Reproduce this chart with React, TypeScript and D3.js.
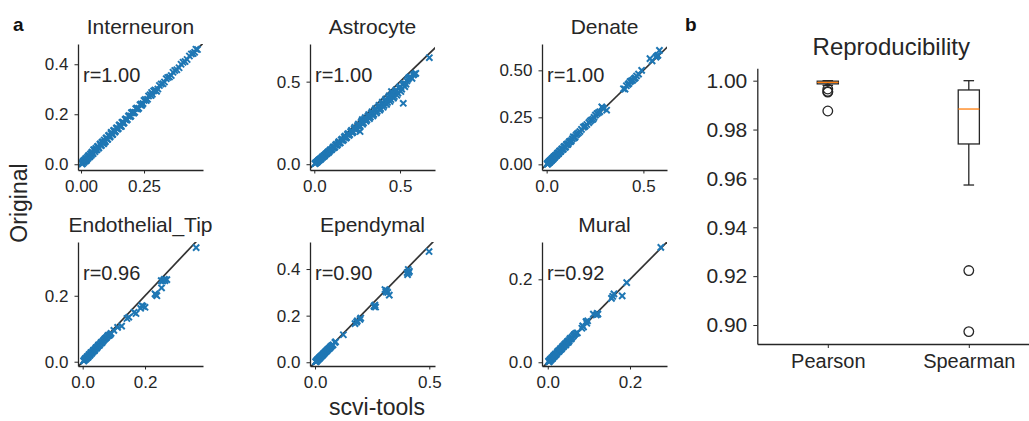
import React, { useEffect, useRef } from 'react'
import * as d3 from 'd3'

type Pt = [number, number]

// [scvi-tools, Original] pairs
const interneuronPts: Pt[] = [
  [0.003, 0.006], [0.006, 0.002], [0.008, 0.011], [0.011, 0.007], [0.013, 0.016], [0.016, 0.012],
  [0.019, 0.023], [0.022, 0.017], [0.025, 0.028], [0.028, 0.024], [0.031, 0.035], [0.034, 0.029],
  [0.037, 0.041], [0.041, 0.036], [0.044, 0.049], [0.048, 0.043], [0.052, 0.057], [0.055, 0.05],
  [0.059, 0.064], [0.063, 0.058], [0.067, 0.072], [0.071, 0.066], [0.075, 0.08], [0.079, 0.074],
  [0.083, 0.088], [0.088, 0.083], [0.092, 0.097], [0.097, 0.091], [0.101, 0.106], [0.106, 0.1],
  [0.111, 0.116], [0.116, 0.111], [0.121, 0.125], [0.126, 0.12], [0.131, 0.136], [0.137, 0.132],
  [0.142, 0.146], [0.148, 0.143], [0.153, 0.158], [0.159, 0.154], [0.165, 0.169], [0.171, 0.166],
  [0.178, 0.182], [0.184, 0.179], [0.191, 0.195], [0.198, 0.193], [0.205, 0.209], [0.213, 0.208],
  [0.221, 0.225], [0.229, 0.224], [0.238, 0.241], [0.246, 0.243], [0.255, 0.259], [0.264, 0.26],
  [0.274, 0.278], [0.283, 0.28], [0.293, 0.297], [0.305, 0.301], [0.318, 0.321], [0.331, 0.329],
  [0.344, 0.347], [0.358, 0.355], [0.372, 0.375], [0.389, 0.386], [0.405, 0.408], [0.421, 0.419],
  [0.438, 0.441], [0.451, 0.448], [0.462, 0.459], [0.02, 0.014], [0.05, 0.058], [0.09, 0.082],
  [0.12, 0.128], [0.16, 0.151], [0.2, 0.206], [0.24, 0.235], [0.28, 0.287], [0.3, 0.292],
  [0.004, 0.001], [0.01, 0.013], [0.017, 0.019], [0.023, 0.02], [0.029, 0.033], [0.036, 0.032],
  [0.042, 0.046], [0.046, 0.042], [0.054, 0.058], [0.06, 0.057], [0.065, 0.07], [0.069, 0.064],
  [0.077, 0.082], [0.081, 0.076], [0.086, 0.09], [0.094, 0.088], [0.099, 0.104], [0.104, 0.099],
  [0.109, 0.114], [0.114, 0.108], [0.119, 0.123], [0.124, 0.118], [0.129, 0.134], [0.134, 0.128],
  [0.14, 0.144], [0.145, 0.14], [0.151, 0.156], [0.156, 0.151], [0.162, 0.167], [0.168, 0.163],
  [0.175, 0.179], [0.181, 0.176], [0.188, 0.192], [0.195, 0.19], [0.201, 0.206], [0.209, 0.204],
  [0.217, 0.222], [0.225, 0.22], [0.234, 0.238], [0.242, 0.238], [0.25, 0.255], [0.259, 0.255],
  [0.268, 0.273], [0.278, 0.275], [0.288, 0.293], [0.298, 0.294], [0.311, 0.315], [0.325, 0.322],
  [0.338, 0.342], [0.351, 0.349], [0.365, 0.368], [0.38, 0.378], [0.397, 0.4], [0.413, 0.411],
  [0.43, 0.433], [0.445, 0.443], [0.456, 0.46],
]

const astrocytePts: Pt[] = [
  [0.004, 0.003], [0.008, 0.008], [0.012, 0.009], [0.016, 0.015], [0.02, 0.016], [0.025, 0.023],
  [0.03, 0.025], [0.035, 0.033], [0.04, 0.034], [0.045, 0.042], [0.05, 0.043], [0.056, 0.052],
  [0.062, 0.053], [0.068, 0.063], [0.074, 0.064], [0.08, 0.075], [0.087, 0.076], [0.094, 0.088],
  [0.1, 0.087], [0.108, 0.101], [0.116, 0.1], [0.124, 0.116], [0.132, 0.114], [0.14, 0.131],
  [0.148, 0.128], [0.157, 0.147], [0.166, 0.143], [0.175, 0.164], [0.184, 0.158], [0.193, 0.181],
  [0.202, 0.174], [0.212, 0.198], [0.222, 0.19], [0.232, 0.216], [0.242, 0.207], [0.252, 0.234],
  [0.262, 0.225], [0.272, 0.253], [0.282, 0.242], [0.292, 0.272], [0.302, 0.26], [0.312, 0.29],
  [0.322, 0.276], [0.332, 0.308], [0.342, 0.293], [0.352, 0.326], [0.362, 0.31], [0.372, 0.345],
  [0.382, 0.327], [0.392, 0.365], [0.402, 0.345], [0.412, 0.385], [0.422, 0.362], [0.432, 0.403],
  [0.442, 0.38], [0.452, 0.42], [0.462, 0.4], [0.472, 0.44], [0.482, 0.418], [0.494, 0.46],
  [0.505, 0.44], [0.516, 0.482], [0.528, 0.47], [0.54, 0.505], [0.552, 0.525], [0.57, 0.52],
  [0.584, 0.546], [0.519, 0.369], [0.671, 0.645], [0.28, 0.27], [0.267, 0.198], [0.45, 0.44],
  [0.006, 0.005], [0.014, 0.012], [0.022, 0.02], [0.028, 0.026], [0.038, 0.031], [0.048, 0.045],
  [0.058, 0.048], [0.066, 0.06], [0.077, 0.07], [0.084, 0.072], [0.091, 0.084], [0.104, 0.092],
  [0.112, 0.106], [0.12, 0.104], [0.128, 0.12], [0.136, 0.119], [0.144, 0.137], [0.152, 0.13],
  [0.162, 0.152], [0.171, 0.148], [0.18, 0.17], [0.189, 0.162], [0.198, 0.186], [0.207, 0.18],
  [0.217, 0.205], [0.227, 0.196], [0.237, 0.224], [0.247, 0.214], [0.257, 0.243], [0.267, 0.232],
  [0.277, 0.262], [0.287, 0.25], [0.297, 0.282], [0.307, 0.268], [0.317, 0.3], [0.327, 0.285],
  [0.337, 0.318], [0.347, 0.302], [0.357, 0.337], [0.367, 0.32], [0.377, 0.356], [0.387, 0.337],
  [0.397, 0.376], [0.407, 0.356], [0.417, 0.395], [0.427, 0.374], [0.437, 0.414], [0.447, 0.392],
  [0.457, 0.432], [0.467, 0.41], [0.477, 0.45], [0.488, 0.43], [0.5, 0.47], [0.51, 0.455],
  [0.522, 0.49], [0.535, 0.485], [0.547, 0.515], [0.56, 0.53], [0.578, 0.54], [0.592, 0.55],
]

const denatePts: Pt[] = [
  [0.003, 0.004], [0.006, 0.002], [0.009, 0.011], [0.012, 0.008], [0.015, 0.017], [0.018, 0.014],
  [0.022, 0.024], [0.026, 0.021], [0.03, 0.032], [0.034, 0.029], [0.038, 0.041], [0.043, 0.039],
  [0.048, 0.05], [0.053, 0.049], [0.058, 0.061], [0.063, 0.058], [0.068, 0.072], [0.074, 0.07],
  [0.08, 0.083], [0.086, 0.081], [0.092, 0.096], [0.098, 0.093], [0.105, 0.108], [0.112, 0.11],
  [0.12, 0.123], [0.128, 0.126], [0.138, 0.147], [0.147, 0.145], [0.158, 0.162], [0.172, 0.175],
  [0.19, 0.198], [0.2, 0.205], [0.208, 0.212], [0.218, 0.222], [0.232, 0.236], [0.245, 0.25],
  [0.252, 0.262], [0.26, 0.27], [0.268, 0.275], [0.285, 0.306], [0.295, 0.296], [0.31, 0.288],
  [0.397, 0.402], [0.405, 0.4], [0.412, 0.418], [0.425, 0.43], [0.431, 0.44], [0.445, 0.448],
  [0.458, 0.46], [0.475, 0.48], [0.491, 0.5], [0.534, 0.562], [0.565, 0.57], [0.575, 0.58],
  [0.583, 0.606], [0.004, 0.001], [0.008, 0.007], [0.013, 0.014], [0.017, 0.012], [0.02, 0.021],
  [0.024, 0.02], [0.028, 0.03], [0.032, 0.027], [0.036, 0.038], [0.04, 0.036], [0.045, 0.047],
  [0.05, 0.046], [0.055, 0.058], [0.06, 0.056], [0.066, 0.069], [0.071, 0.067], [0.077, 0.08],
  [0.083, 0.079], [0.089, 0.093], [0.095, 0.09], [0.102, 0.105], [0.108, 0.104], [0.116, 0.119],
  [0.124, 0.121], [0.133, 0.136], [0.142, 0.14], [0.152, 0.156], [0.165, 0.168], [0.18, 0.186],
  [0.195, 0.2], [0.225, 0.23], [0.24, 0.24], [0.275, 0.28], [0.29, 0.3], [0.42, 0.425],
  [0.438, 0.444], [0.452, 0.455], [0.465, 0.47], [0.545, 0.55], [0.57, 0.576],
]

const endothelialPts: Pt[] = [
  [0.003, 0.003], [0.006, 0.005], [0.009, 0.01], [0.012, 0.01], [0.015, 0.016], [0.018, 0.015],
  [0.021, 0.022], [0.024, 0.021], [0.027, 0.028], [0.031, 0.028], [0.035, 0.035], [0.039, 0.036],
  [0.043, 0.043], [0.047, 0.044], [0.051, 0.051], [0.055, 0.052], [0.06, 0.059], [0.065, 0.062],
  [0.07, 0.068], [0.075, 0.072], [0.08, 0.078], [0.085, 0.08], [0.091, 0.086], [0.1, 0.095],
  [0.112, 0.104], [0.125, 0.108], [0.142, 0.131], [0.148, 0.135], [0.165, 0.15], [0.171, 0.146],
  [0.186, 0.162], [0.19, 0.17], [0.2, 0.165], [0.232, 0.206], [0.238, 0.2], [0.253, 0.224],
  [0.257, 0.245], [0.262, 0.25], [0.27, 0.249], [0.364, 0.346], [0.004, 0.002], [0.007, 0.008],
  [0.011, 0.008], [0.014, 0.014], [0.017, 0.013], [0.02, 0.02], [0.023, 0.019], [0.026, 0.026],
  [0.029, 0.025], [0.033, 0.032], [0.037, 0.033], [0.041, 0.04], [0.045, 0.041], [0.049, 0.048],
  [0.053, 0.049], [0.058, 0.056], [0.062, 0.058], [0.067, 0.065], [0.072, 0.07], [0.077, 0.074],
  [0.082, 0.08], [0.088, 0.082], [0.264, 0.246], [0.252, 0.246], [0.194, 0.168], [0.235, 0.203],
]

const ependymalPts: Pt[] = [
  [0.003, 0.003], [0.006, 0.004], [0.009, 0.009], [0.012, 0.01], [0.015, 0.015], [0.018, 0.016],
  [0.021, 0.021], [0.025, 0.023], [0.029, 0.028], [0.033, 0.031], [0.037, 0.036], [0.041, 0.04],
  [0.046, 0.045], [0.051, 0.049], [0.056, 0.055], [0.062, 0.06], [0.068, 0.066], [0.075, 0.072],
  [0.087, 0.085], [0.124, 0.118], [0.175, 0.166], [0.182, 0.172], [0.197, 0.184], [0.2, 0.19],
  [0.258, 0.241], [0.262, 0.245], [0.265, 0.237], [0.306, 0.312], [0.313, 0.308], [0.318, 0.3],
  [0.325, 0.288], [0.405, 0.376], [0.41, 0.385], [0.413, 0.39], [0.408, 0.398], [0.499, 0.475],
  [0.004, 0.002], [0.008, 0.007], [0.011, 0.011], [0.014, 0.012], [0.017, 0.017], [0.02, 0.018],
  [0.023, 0.022], [0.027, 0.026], [0.031, 0.029], [0.035, 0.034], [0.039, 0.037], [0.044, 0.042],
  [0.048, 0.047], [0.053, 0.051], [0.059, 0.057], [0.065, 0.062], [0.071, 0.069], [0.079, 0.075],
  [0.09, 0.088], [0.185, 0.178], [0.26, 0.238], [0.31, 0.302], [0.403, 0.385],
]

const muralPts: Pt[] = [
  [0.002, 0.003], [0.004, 0.002], [0.006, 0.007], [0.008, 0.006], [0.01, 0.011], [0.012, 0.01],
  [0.014, 0.015], [0.016, 0.014], [0.018, 0.019], [0.02, 0.018], [0.023, 0.024], [0.026, 0.025],
  [0.029, 0.03], [0.032, 0.031], [0.035, 0.036], [0.038, 0.037], [0.041, 0.043], [0.044, 0.042],
  [0.047, 0.049], [0.05, 0.048], [0.053, 0.055], [0.057, 0.056], [0.062, 0.063], [0.066, 0.068],
  [0.072, 0.071], [0.083, 0.082], [0.087, 0.085], [0.093, 0.098], [0.097, 0.1], [0.095, 0.094],
  [0.111, 0.116], [0.118, 0.114], [0.122, 0.116], [0.155, 0.154], [0.161, 0.165], [0.181, 0.16],
  [0.192, 0.192], [0.275, 0.277], [0.003, 0.001], [0.005, 0.005], [0.007, 0.005], [0.009, 0.009],
  [0.011, 0.009], [0.013, 0.013], [0.015, 0.016], [0.017, 0.016], [0.019, 0.02], [0.022, 0.021],
  [0.025, 0.027], [0.028, 0.027], [0.031, 0.033], [0.034, 0.033], [0.037, 0.039], [0.04, 0.04],
  [0.043, 0.045], [0.046, 0.046], [0.049, 0.051], [0.052, 0.051], [0.055, 0.058], [0.059, 0.06],
  [0.064, 0.066], [0.069, 0.07], [0.085, 0.088], [0.12, 0.118], [0.158, 0.159],
]

const cellTypes = ['Interneuron', 'Astrocyte', 'Denate', 'Endothelial_Tip', 'Ependymal', 'Mural']
const rValues = ['1.00', '1.00', '1.00', '0.96', '0.90', '0.92']
const scatterSets = [interneuronPts, astrocytePts, denatePts, endothelialPts, ependymalPts, muralPts]
const xLimits = [[-0.012, 0.484], [-0.025, 0.704], [-0.024, 0.622], [-0.015, 0.386], [-0.022, 0.525], [-0.014, 0.29]]
const yLimits = [[-0.023, 0.481], [-0.035, 0.728], [-0.03, 0.64], [-0.013, 0.363], [-0.016, 0.516], [-0.009, 0.29]]
const xTickValues = [[0, 0.25], [0, 0.5], [0, 0.5], [0, 0.2], [0, 0.5], [0, 0.2]]
const yTickValues = [[0, 0.2, 0.4], [0, 0.5], [0, 0.25, 0.5], [0, 0.2], [0, 0.2, 0.4], [0, 0.2]]
const xTickFormats = ['.2f', '.1f', '.1f', '.1f', '.1f', '.1f']
const yTickFormats = ['.1f', '.1f', '.2f', '.1f', '.1f', '.1f']

// box plot summary (panel b)
const methods = ['Pearson', 'Spearman']
const whiskerLow = [0.9981, 0.9573]
const quartile1 = [0.9987, 0.9741]
const medians = [0.9993, 0.9884]
const quartile3 = [0.9998, 0.9962]
const whiskerHigh = [1.0, 1.0]
const fliers = [[0.9966, 0.9956, 0.9953, 0.9876], [0.9223, 0.8973]]
const boxYTicks = [0.9, 0.92, 0.94, 0.96, 0.98, 1.0]

const FONT = "'Liberation Sans', Arial, Helvetica, sans-serif"
const INK = '#262626'
const BLUE = '#1f77b4'
const ORANGE = '#ff7f0e'

const colLefts = [78, 310, 542]
const rowTops = [44, 242]
const rowHeights = [126, 124]
const panelW = 125

const styleAxis = (g, size) => {
  g.attr('font-family', FONT).attr('font-size', size)
  g.selectAll('text').attr('fill', INK)
  g.selectAll('line').attr('stroke', INK).attr('stroke-width', 1)
  g.select('.domain').attr('stroke', INK).attr('stroke-width', 1.3)
}

const ScatterPanel = ({ i }: { i: number }) => {
  const xAxisRef = useRef(null)
  const yAxisRef = useRef(null)
  const row = Math.floor(i / 3)
  const left = colLefts[i % 3]
  const top = rowTops[row]
  const h = rowHeights[row]
  const xScale = d3.scaleLinear().domain(xLimits[i]).range([0, panelW])
  const yScale = d3.scaleLinear().domain(yLimits[i]).range([h, 0])

  useEffect(() => {
    const xg = d3.select(xAxisRef.current)
    xg.attr('transform', `translate(0,${h})`).call(
      d3.axisBottom(xScale).tickValues(xTickValues[i]).tickFormat(d3.format(xTickFormats[i]))
        .tickSize(3.5).tickSizeOuter(0).tickPadding(6)
    )
    styleAxis(xg, 17)
    const yg = d3.select(yAxisRef.current)
    yg.call(
      d3.axisLeft(yScale).tickValues(yTickValues[i]).tickFormat(d3.format(yTickFormats[i]))
        .tickSize(3.5).tickSizeOuter(0).tickPadding(6)
    )
    styleAxis(yg, 17)
  }, [i, h])

  const lo = Math.min(xLimits[i][0], yLimits[i][0])
  const hi = Math.max(xLimits[i][1], yLimits[i][1])
  const diag = d3.line<number>().x((v) => xScale(v)).y((v) => yScale(v))([lo, hi])
  const cross = 'M-3.1,-3.1L3.1,3.1M-3.1,3.1L3.1,-3.1'

  return (
    <g transform={`translate(${left},${top})`}>
      <defs>
        <clipPath id={`clip-${i}`}>
          <rect x={0} y={0} width={panelW} height={h} />
        </clipPath>
      </defs>
      <text x={panelW / 2} y={-10} textAnchor='middle' fontFamily={FONT} fontSize={21} fill={INK}>
        {cellTypes[i]}
      </text>
      <g clipPath={`url(#clip-${i})`}>
        <path d={diag} stroke='#333' strokeWidth={1.7} fill='none' />
        {scatterSets[i].map((d, k) => (
          <path
            key={k}
            d={cross}
            transform={`translate(${xScale(d[0])},${yScale(d[1])})`}
            stroke={BLUE}
            strokeWidth={2}
          />
        ))}
      </g>
      <text x={5} y={38} fontFamily={FONT} fontSize={20} fill={INK}>
        {`r=${rValues[i]}`}
      </text>
      <g ref={xAxisRef} />
      <g ref={yAxisRef} />
    </g>
  )
}

const BoxPanel = () => {
  const xAxisRef = useRef(null)
  const yAxisRef = useRef(null)
  const left = 757.3
  const top = 68.3
  const h = 344 - top
  const xScale = d3.scaleLinear().domain([0.5, 2.5]).range([0, 282])
  const yScale = d3.scaleLinear().domain([0.89223, 1.00507]).range([h, 0])
  const boxW = xScale(1.15) - xScale(1)
  const capW = boxW / 2

  useEffect(() => {
    const xg = d3.select(xAxisRef.current)
    xg.attr('transform', `translate(0,${h})`).call(
      d3.axisBottom(xScale).tickValues([1, 2]).tickFormat((d) => methods[+d - 1])
        .tickSize(4).tickSizeOuter(0).tickPadding(6)
    )
    styleAxis(xg, 20)
    const yg = d3.select(yAxisRef.current)
    yg.call(
      d3.axisLeft(yScale).tickValues(boxYTicks).tickFormat(d3.format('.2f'))
        .tickSize(4).tickSizeOuter(0).tickPadding(6)
    )
    styleAxis(yg, 21)
  }, [h])

  return (
    <g transform={`translate(${left},${top})`}>
      <text x={134} y={-13} textAnchor='middle' fontFamily={FONT} fontSize={24} fill={INK}>
        Reproducibility
      </text>
      {methods.map((m, k) => {
        const cx = xScale(k + 1)
        return (
          <g key={m} stroke={INK} strokeWidth={1.3} fill='none'>
            <line x1={cx} x2={cx} y1={yScale(quartile1[k])} y2={yScale(whiskerLow[k])} />
            <line x1={cx} x2={cx} y1={yScale(quartile3[k])} y2={yScale(whiskerHigh[k])} />
            <line x1={cx - capW / 2} x2={cx + capW / 2} y1={yScale(whiskerLow[k])} y2={yScale(whiskerLow[k])} />
            <line x1={cx - capW / 2} x2={cx + capW / 2} y1={yScale(whiskerHigh[k])} y2={yScale(whiskerHigh[k])} />
            <rect
              x={cx - boxW / 2}
              y={yScale(quartile3[k])}
              width={boxW}
              height={yScale(quartile1[k]) - yScale(quartile3[k])}
            />
            <line
              x1={cx - boxW / 2}
              x2={cx + boxW / 2}
              y1={yScale(medians[k])}
              y2={yScale(medians[k])}
              stroke={ORANGE}
            />
            {fliers[k].map((f, j) => (
              <circle key={j} cx={cx} cy={yScale(f)} r={4.8} />
            ))}
          </g>
        )
      })}
      <g ref={xAxisRef} />
      <g ref={yAxisRef} />
    </g>
  )
}

const App = () => {
  return (
    <svg
      width={1029}
      height={421}
      style={{ position: 'absolute', left: 0, top: 0, background: '#fff' }}
    >
      <rect width={1029} height={421} fill='#fff' />
      <text x={13} y={31} fontFamily={FONT} fontSize={19} fontWeight='bold' fill='#111'>
        a
      </text>
      <text x={685} y={31} fontFamily={FONT} fontSize={19} fontWeight='bold' fill='#111'>
        b
      </text>
      {cellTypes.map((c, i) => (
        <ScatterPanel key={c} i={i} />
      ))}
      <text
        transform='translate(27,203) rotate(-90)'
        textAnchor='middle'
        fontFamily={FONT}
        fontSize={23}
        fill={INK}
      >
        Original
      </text>
      <text x={377} y={415} textAnchor='middle' fontFamily={FONT} fontSize={23} fill={INK}>
        scvi-tools
      </text>
      <BoxPanel />
    </svg>
  )
}

export default App
